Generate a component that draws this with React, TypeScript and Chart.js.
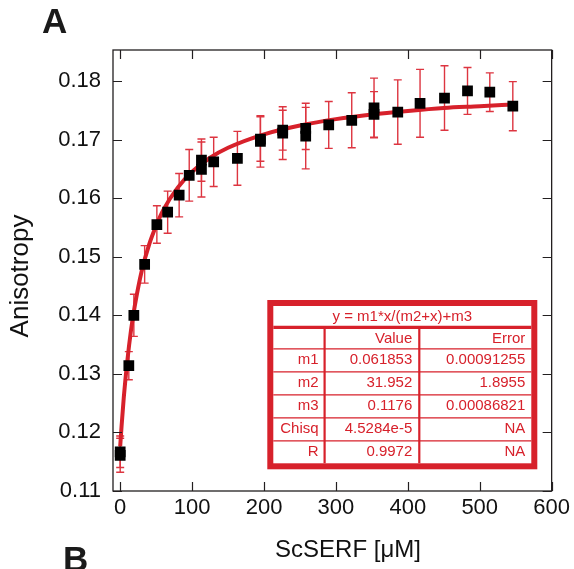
import React, { useEffect, useRef } from "react";
import { Chart, registerables } from "chart.js";

Chart.register(...registerables);

// ---- data ----
const ptX = [0, 0, 12, 19, 34, 51, 66, 82, 96, 113, 113, 130, 163, 195, 195, 226, 226, 258, 258, 290, 322, 353, 353, 386, 417, 451, 483, 514, 546];
const ptY = [0.1167, 0.1161, 0.1314, 0.1400, 0.1487, 0.1555, 0.1576, 0.1605, 0.1639, 0.1665, 0.1649, 0.1662, 0.1668, 0.1697, 0.1701, 0.1711, 0.1716, 0.1706, 0.1719, 0.1725, 0.1733, 0.1754, 0.1743, 0.1747, 0.1762, 0.1771, 0.1783, 0.1781, 0.1757];
const ptErr = [0.0027, 0.0029, 0.0024, 0.0036, 0.0032, 0.0032, 0.0036, 0.0037, 0.0044, 0.0036, 0.0047, 0.0042, 0.0046, 0.0044, 0.0038, 0.0045, 0.0034, 0.0056, 0.0036, 0.0040, 0.0047, 0.0051, 0.0039, 0.0055, 0.0058, 0.0055, 0.0040, 0.0033, 0.0042];

const fitX = [0, 2, 5, 10, 15, 20, 30, 40, 50, 60, 80, 100, 125, 150, 200, 250, 300, 350, 400, 450, 500, 546];
const fitY = [0.1176, 0.1212, 0.1260, 0.1323, 0.1374, 0.1414, 0.1476, 0.1520, 0.1553, 0.1580, 0.1618, 0.1645, 0.1669, 0.1686, 0.1709, 0.1724, 0.1735, 0.1743, 0.1749, 0.1754, 0.1757, 0.1760];

const xTicks = [0, 100, 200, 300, 400, 500, 600];
const yTicks = [0.11, 0.12, 0.13, 0.14, 0.15, 0.16, 0.17, 0.18];
const yTickLabels = ["0.11", "0.12", "0.13", "0.14", "0.15", "0.16", "0.17", "0.18"];

const xTitle = "ScSERF [μM]";
const yTitle = "Anisotropy";
const panelA = "A";
const panelB = "B";

const tableTitle = "y = m1*x/(m2+x)+m3";
const tableHeader = ["", "Value", "Error"];
const tableRows = [
  ["m1", "0.061853", "0.00091255"],
  ["m2", "31.952", "1.8955"],
  ["m3", "0.1176", "0.00086821"],
  ["Chisq", "4.5284e-5", "NA"],
  ["R", "0.9972", "NA"],
];

const FONT = "'Liberation Sans', Arial, Helvetica, sans-serif";
const RED = "#d7212b";
const ERR_RED = "#dd3540";
const DARK = "#231f20";

const decorPlugin = {
  id: "decor",
  beforeDatasetsDraw(chart: any) {
    const { ctx } = chart;
    const xs = chart.scales.x;
    const ys = chart.scales.y;
    ctx.save();
    ctx.strokeStyle = ERR_RED;
    ctx.lineWidth = 1.4;
    for (let i = 0; i < ptX.length; i++) {
      const px = xs.getPixelForValue(ptX[i]);
      const t = ys.getPixelForValue(ptY[i] + ptErr[i]);
      const b = ys.getPixelForValue(ptY[i] - ptErr[i]);
      ctx.beginPath();
      ctx.moveTo(px, t);
      ctx.lineTo(px, b);
      ctx.moveTo(px - 4, t);
      ctx.lineTo(px + 4, t);
      ctx.moveTo(px - 4, b);
      ctx.lineTo(px + 4, b);
      ctx.stroke();
    }
    ctx.restore();
  },
  afterDraw(chart: any) {
    const { ctx, chartArea } = chart;
    const xs = chart.scales.x;
    const ys = chart.scales.y;
    const { left, right, top, bottom } = chartArea;
    ctx.save();
    // frame
    ctx.strokeStyle = DARK;
    ctx.lineWidth = 1.3;
    ctx.strokeRect(left, top, right - left, bottom - top);
    // inward ticks
    const tl = 9;
    ctx.lineWidth = 1.2;
    ctx.beginPath();
    xTicks.forEach((v) => {
      const px = Math.round(xs.getPixelForValue(v)) + 0.5;
      ctx.moveTo(px, bottom);
      ctx.lineTo(px, bottom - tl);
      ctx.moveTo(px, top);
      ctx.lineTo(px, top + tl);
    });
    yTicks.forEach((v) => {
      const py = Math.round(ys.getPixelForValue(v)) + 0.5;
      ctx.moveTo(left, py);
      ctx.lineTo(left + tl, py);
      ctx.moveTo(right, py);
      ctx.lineTo(right - tl, py);
    });
    ctx.stroke();

    // axis titles
    ctx.fillStyle = "#111";
    ctx.font = `24px ${FONT}`;
    ctx.textAlign = "center";
    ctx.textBaseline = "alphabetic";
    ctx.fillText(xTitle, 348, 556.5);
    ctx.save();
    ctx.font = `26px ${FONT}`;
    ctx.translate(28, 276);
    ctx.rotate(-Math.PI / 2);
    ctx.fillText(yTitle, 0, 0);
    ctx.restore();

    // panel letters
    ctx.font = `bold 35px ${FONT}`;
    ctx.textAlign = "left";
    ctx.fillStyle = "#1a1a1a";
    ctx.fillText(panelA, 42, 33);
    ctx.fillText(panelB, 63, 571);

    // fit table
    const tx0 = 270.3, tx1 = 534.3, ty0 = 303, ty1 = 466.3;
    ctx.fillStyle = "#fff";
    ctx.fillRect(tx0, ty0, tx1 - tx0, ty1 - ty0);
    ctx.strokeStyle = RED;
    ctx.lineWidth = 6;
    ctx.strokeRect(tx0, ty0, tx1 - tx0, ty1 - ty0);
    const inL = tx0 + 3, inR = tx1 - 3, inB = ty1 - 3;
    const sep = 327.3;
    ctx.lineWidth = 3.3;
    ctx.beginPath();
    ctx.moveTo(inL, sep);
    ctx.lineTo(inR, sep);
    ctx.stroke();
    const rowLines = [348.8, 371.8, 394.8, 417.8, 440.8];
    ctx.lineWidth = 1.3;
    ctx.beginPath();
    rowLines.forEach((yy) => {
      ctx.moveTo(inL, yy);
      ctx.lineTo(inR, yy);
    });
    ctx.stroke();
    const col1 = 324.6, col2 = 419.3;
    ctx.lineWidth = 2.2;
    ctx.beginPath();
    ctx.moveTo(col1, sep);
    ctx.lineTo(col1, inB);
    ctx.moveTo(col2, sep);
    ctx.lineTo(col2, inB);
    ctx.stroke();

    ctx.fillStyle = RED;
    ctx.font = `15px ${FONT}`;
    ctx.textBaseline = "middle";
    ctx.textAlign = "center";
    ctx.fillText(tableTitle, (tx0 + tx1) / 2, 316.5);
    const rowsAll = [tableHeader, ...tableRows];
    const rowMid = [338.8, 360.3, 383.3, 406.3, 429.3, 452.3];
    const rightEdges = [col1 - 6, col2 - 7, inR - 6];
    ctx.textAlign = "right";
    rowsAll.forEach((row, r) => {
      row.forEach((cell, c) => {
        if (cell) ctx.fillText(cell, rightEdges[c], rowMid[r]);
      });
    });
    ctx.restore();
  },
};

export default function App() {
  const ref = useRef<HTMLCanvasElement>(null);
  useEffect(() => {
    if (!ref.current) return;
    const chart = new Chart(ref.current, {
      type: "scatter",
      data: {
        datasets: [
          {
            type: "scatter",
            label: "data",
            data: ptX.map((x, i) => ({ x, y: ptY[i] })),
            pointStyle: "rect",
            pointRadius: 7.6,
            pointHoverRadius: 7.6,
            pointBorderWidth: 0,
            backgroundColor: "#000",
            borderColor: "#000",
            order: 0,
          },
          {
            type: "line",
            label: "fit",
            data: fitX.map((x, i) => ({ x, y: fitY[i] })),
            borderColor: RED,
            borderWidth: 4,
            pointRadius: 0,
            fill: false,
            cubicInterpolationMode: "monotone",
            order: 1,
          } as any,
        ],
      },
      options: {
        animation: false,
        responsive: false,
        devicePixelRatio: 1,
        layout: { padding: { left: 0, right: 22, top: 50, bottom: 0 } },
        plugins: {
          legend: { display: false },
          tooltip: { enabled: false },
          title: { display: false },
        },
        scales: {
          x: {
            type: "linear",
            min: -10,
            max: 600,
            grid: { display: false, drawTicks: false },
            border: { display: false },
            afterBuildTicks: (s: any) => {
              s.ticks = xTicks.map((v) => ({ value: v }));
            },
            afterFit: (s: any) => {
              s.height = 78;
            },
            ticks: {
              autoSkip: false,
              maxRotation: 0,
              padding: 4,
              color: "#111",
              font: { family: FONT, size: 22 },
              callback: (v: any) => String(v),
            },
          },
          y: {
            type: "linear",
            min: 0.11,
            max: 0.1853,
            grid: { display: false, drawTicks: false },
            border: { display: false },
            afterBuildTicks: (s: any) => {
              s.ticks = yTicks.map((v) => ({ value: v }));
            },
            afterFit: (s: any) => {
              s.width = 113;
            },
            ticks: {
              autoSkip: false,
              padding: 12,
              color: "#111",
              font: { family: FONT, size: 22 },
              callback: (v: any) => {
                const i = yTicks.findIndex((t) => Math.abs(t - v) < 1e-9);
                return i >= 0 ? yTickLabels[i] : "";
              },
            },
          },
        },
      },
      plugins: [decorPlugin],
    });
    return () => chart.destroy();
  }, []);
  return (
    <div style={{ position: "absolute", left: 0, top: 0, width: 574, height: 569, background: "#fff" }}>
      <canvas ref={ref} width={574} height={569} style={{ display: "block" }} />
    </div>
  );
}
